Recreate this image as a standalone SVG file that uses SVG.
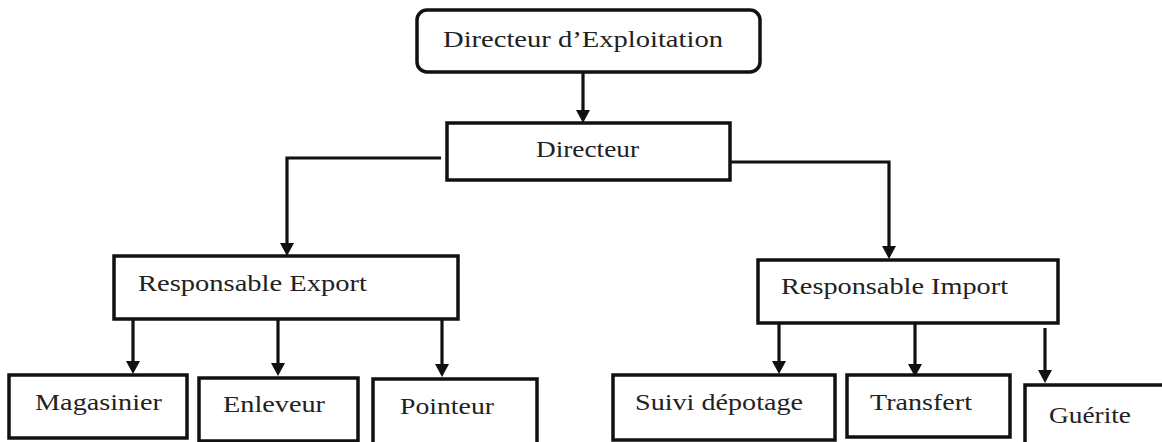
<svg xmlns="http://www.w3.org/2000/svg" width="1162" height="442" viewBox="0 0 1162 442">
  <style>
    .box { fill: #ffffff; stroke: #111111; stroke-width: 3.5; }
    .lbl { font-family: "Liberation Serif", "Times New Roman", serif; font-size: 24px; fill: #222222; }
    .conn { fill: none; stroke: #111111; stroke-width: 3.2; }
  </style>
  <defs>
    <marker id="arr" markerUnits="userSpaceOnUse" markerWidth="16" markerHeight="16" refX="9" refY="7" orient="auto">
      <path d="M0,0 L13,7 L0,14 z" fill="#111111"/>
    </marker>
  </defs>
  <rect x="0" y="0" width="1162" height="442" fill="#ffffff"/>

  <g id="connectors">
    <line class="conn" x1="583" y1="72" x2="583" y2="119" marker-end="url(#arr)"/>
    <path class="conn" d="M441,158 H287 V252" marker-end="url(#arr)"/>
    <path class="conn" d="M730,162 H889 V255" marker-end="url(#arr)"/>
    <line class="conn" x1="133" y1="319" x2="133" y2="370" marker-end="url(#arr)"/>
    <line class="conn" x1="278" y1="319" x2="278" y2="372" marker-end="url(#arr)"/>
    <line class="conn" x1="442" y1="319" x2="442" y2="373" marker-end="url(#arr)"/>
    <line class="conn" x1="779" y1="320" x2="779" y2="370" marker-end="url(#arr)"/>
    <line class="conn" x1="915" y1="323" x2="915" y2="373" marker-end="url(#arr)"/>
    <line class="conn" x1="1045" y1="328" x2="1045" y2="379" marker-end="url(#arr)"/>
  </g>

  <g id="n-directeur-exploitation">
    <rect class="box" x="417" y="10" width="343" height="62" rx="10" ry="10"/>
    <text class="lbl" x="443" y="47" textLength="280" lengthAdjust="spacingAndGlyphs">Directeur d’Exploitation</text>
  </g>
  <g id="n-directeur">
    <rect class="box" x="447" y="123" width="283" height="57"/>
    <text class="lbl" x="536" y="157" textLength="103" lengthAdjust="spacingAndGlyphs">Directeur</text>
  </g>
  <g id="n-resp-export">
    <rect class="box" x="114" y="256" width="344" height="63"/>
    <text class="lbl" x="138" y="291" textLength="229" lengthAdjust="spacingAndGlyphs">Responsable Export</text>
  </g>
  <g id="n-resp-import">
    <rect class="box" x="758" y="260" width="300" height="63"/>
    <text class="lbl" x="781" y="294" textLength="227" lengthAdjust="spacingAndGlyphs">Responsable Import</text>
  </g>
  <g id="n-magasinier">
    <rect class="box" x="9" y="375" width="178" height="63"/>
    <text class="lbl" x="35" y="410" textLength="127" lengthAdjust="spacingAndGlyphs">Magasinier</text>
  </g>
  <g id="n-enleveur">
    <rect class="box" x="199" y="378" width="159" height="63"/>
    <text class="lbl" x="223" y="412" textLength="102" lengthAdjust="spacingAndGlyphs">Enleveur</text>
  </g>
  <g id="n-pointeur">
    <rect class="box" x="373" y="379" width="164" height="66"/>
    <text class="lbl" x="400" y="414" textLength="94" lengthAdjust="spacingAndGlyphs">Pointeur</text>
  </g>
  <g id="n-suivi-depotage">
    <rect class="box" x="613" y="375" width="222" height="65"/>
    <text class="lbl" x="635" y="410" textLength="168" lengthAdjust="spacingAndGlyphs">Suivi dépotage</text>
  </g>
  <g id="n-transfert">
    <rect class="box" x="847" y="375" width="163" height="62"/>
    <text class="lbl" x="870" y="410" textLength="102" lengthAdjust="spacingAndGlyphs">Transfert</text>
  </g>
  <g id="n-guerite">
    <rect class="box" x="1025" y="385" width="150" height="62"/>
    <text class="lbl" x="1049" y="423" textLength="82" lengthAdjust="spacingAndGlyphs">Guérite</text>
  </g>
</svg>
